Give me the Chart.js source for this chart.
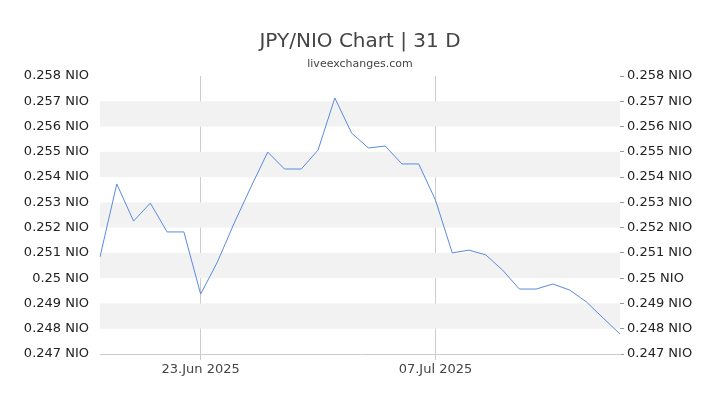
<!DOCTYPE html>
<html><head><meta charset="utf-8">
<script src="https://cdn.jsdelivr.net/npm/chart.js@4"></script>
<style>html,body{margin:0;padding:0;background:#fff}#w{width:720px;height:405px}</style>
</head><body><div id="w"><canvas id="c"></canvas></div>
<script>
const dates = ["17.Jun","18.Jun","19.Jun","20.Jun","21.Jun","22.Jun","23.Jun","24.Jun","25.Jun","26.Jun","27.Jun","28.Jun","29.Jun","30.Jun","01.Jul","02.Jul","03.Jul","04.Jul","05.Jul","06.Jul","07.Jul","08.Jul","09.Jul","10.Jul","11.Jul","12.Jul","13.Jul","14.Jul","15.Jul","16.Jul","17.Jul","18.Jul"];
const rates = [0.25084,0.25373,0.25226,0.25297,0.25183,0.25183,0.24937,0.25064,0.25218,0.25361,0.25499,0.25432,0.25432,0.25507,0.25713,0.25574,0.25515,0.25523,0.25452,0.25452,0.25309,0.25100,0.25111,0.25092,0.25032,0.24957,0.24957,0.24977,0.24953,0.24906,0.24842,0.24779,0.24739].slice(0,32);
const tickLabels = {"23.Jun":"23.Jun 2025","07.Jul":"07.Jul 2025"};
const yMin=0.247,yMax=0.258;
const fmt=v=>Number(v.toFixed(3))+" NIO";
const deco={id:'deco',
 beforeDatasetsDraw(ch){const {ctx,chartArea:a,scales:{y}}=ch;ctx.save();ctx.fillStyle='#f2f2f2';
  for(let v=0.248;v<0.2575;v+=0.002){const t=y.getPixelForValue(v+0.001),b=y.getPixelForValue(v);ctx.fillRect(a.left,t,a.right-a.left,b-t);}
  ctx.restore();},
 afterDraw(ch){const ctx=ch.ctx;ctx.save();ctx.textAlign='center';ctx.fillStyle='#444';
  ctx.font='20px "DejaVu Sans"';ctx.fillText('JPY/NIO Chart | 31 D',360,47);
  ctx.font='11px "DejaVu Sans"';ctx.fillStyle='#444';ctx.fillText('liveexchanges.com',360,67);ctx.restore();}};
new Chart(document.getElementById('c'),{type:'line',
 data:{labels:dates,datasets:[{data:rates,borderColor:'#5b8ae0',borderWidth:1,pointRadius:0,tension:0,fill:false}]},
 plugins:[deco],
 options:{responsive:true,maintainAspectRatio:false,animation:false,
  layout:{padding:{top:76,left:0,right:0,bottom:0}},
  plugins:{legend:{display:false},tooltip:{enabled:false}},
  scales:{
   x:{offset:false,afterFit(s){s.height=51;},
    grid:{drawTicks:true,tickLength:6,color:c=>tickLabels[dates[c.index]]?'#ccc':'rgba(0,0,0,0)'},border:{color:'#ccc'},
    ticks:{autoSkip:false,maxRotation:0,color:'#444',font:{size:13,family:'DejaVu Sans'},padding:2,callback:(v,i)=>tickLabels[dates[i]]||''}},
   y:{min:yMin,max:yMax,afterFit(s){s.width=100;},grid:{display:false},border:{display:false},
    ticks:{stepSize:0.001,color:'#222',font:{size:13,family:'DejaVu Sans'},callback:fmt}},
   y2:{position:'right',min:yMin,max:yMax,afterFit(s){s.width=100;},grid:{display:true,drawOnChartArea:false,tickLength:4,color:'#999'},border:{display:false},
    ticks:{stepSize:0.001,color:'#222',font:{size:13,family:'DejaVu Sans'},callback:fmt}}
  }}});
</script></body></html>
